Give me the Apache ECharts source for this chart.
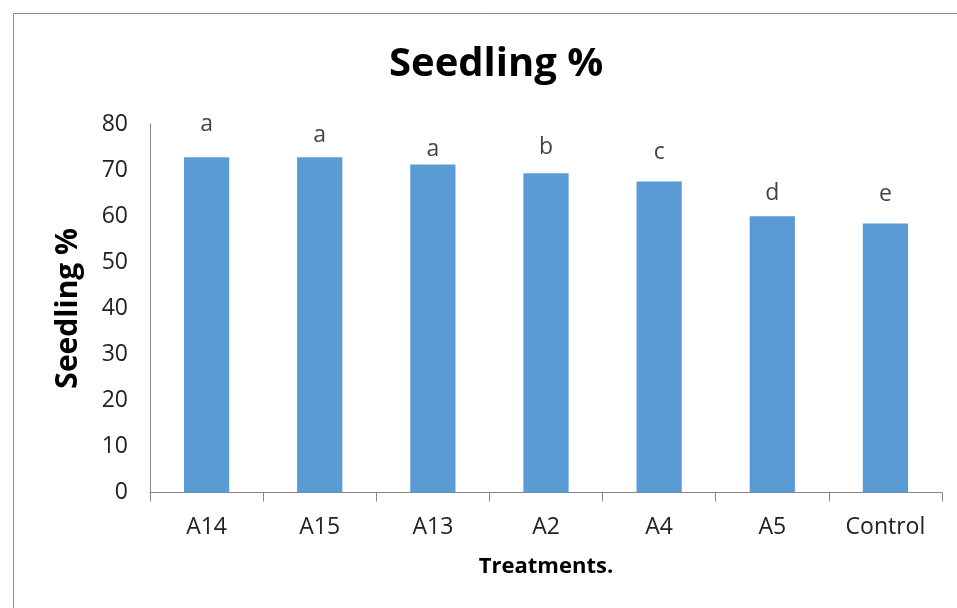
<!DOCTYPE html>
<html lang="en">
<head>
  <meta charset="UTF-8">
  <script src="https://cdn.jsdelivr.net/npm/echarts/dist/echarts.min.js"></script>
  <title>Seedling %</title>
  <style>
    html, body { margin: 0; height: 100%; background: #fff; }
    #chart { width: 957px; height: 608px; }
  </style>
</head>
<body>
  <div id="chart"></div>
  <script type="text/javascript">
    // 数据
    var treatments = ['A14', 'A15', 'A13', 'A2', 'A4', 'A5', 'Control'];
    var seedling = [72.8, 72.8, 71.2, 69.3, 67.5, 60.0, 58.4];
    var letters = ['a', 'a', 'a', 'b', 'c', 'd', 'e'];
    // 字母标注的高度（按纵轴数值）
    var letterY = [79.8, 77.6, 74.4, 74.8, 73.8, 65.0, 64.6];

    var chart = echarts.init(document.getElementById('chart'));
    var font = '"Open Sans", "Liberation Sans", sans-serif';
    var axisGray = '#868686';

    var option = {
      animation: false,
      textStyle: { fontFamily: font },
      graphic: [{
        type: 'rect',
        left: 11, top: 11,
        shape: { width: 960, height: 620 },
        style: { fill: 'none', stroke: '#8c8c8c', lineWidth: 1 },
        silent: true
      }],
      title: {
        text: 'Seedling %',
        left: 384,
        top: 40,
        textStyle: { fontFamily: font, fontSize: 40, fontWeight: 'bold', color: '#000' }
      },
      grid: { left: 150, right: 15, top: 124, bottom: 115.5 },
      xAxis: {
        type: 'category',
        data: treatments,
        name: 'Treatments.',
        nameLocation: 'middle',
        nameGap: 63,
        nameTextStyle: { fontFamily: font, fontSize: 22, fontWeight: 'bold', color: '#000' },
        axisLine: { lineStyle: { color: axisGray, width: 1 } },
        axisTick: { show: true, length: 9, lineStyle: { color: axisGray } },
        axisLabel: { fontFamily: font, fontSize: 23, color: '#222', margin: 23 }
      },
      yAxis: {
        type: 'value',
        min: 0, max: 80, interval: 10,
        name: 'Seedling %',
        nameLocation: 'middle',
        nameGap: 67,
        nameRotate: 90,
        nameTextStyle: { fontFamily: font, fontSize: 30, fontWeight: 'bold', color: '#000' },
        axisLine: { show: true, lineStyle: { color: axisGray, width: 1 } },
        axisTick: { show: false },
        splitLine: { show: false },
        axisLabel: { fontFamily: font, fontSize: 23, color: '#222', margin: 22 }
      },
      series: [{
        type: 'bar',
        data: seedling,
        barWidth: '40%',
        itemStyle: { color: '#5B9BD5' }
      }, {
        type: 'scatter',
        data: letterY,
        symbolSize: 0,
        silent: true,
        label: {
          show: true,
          position: 'inside',
          formatter: function (p) { return letters[p.dataIndex]; },
          fontFamily: font,
          fontSize: 23,
          color: '#111'
        }
      }]
    };
    chart.setOption(option);
  </script>
</body>
</html>
